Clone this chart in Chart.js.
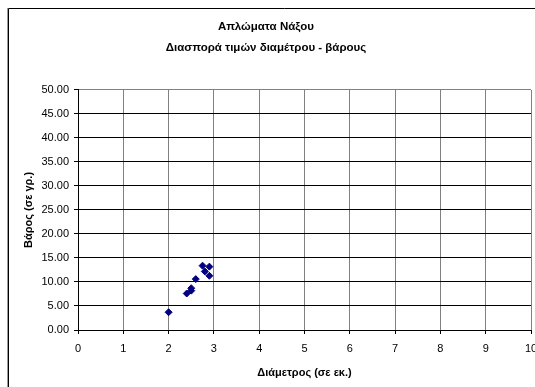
<!DOCTYPE html>
<html>
<head>
<meta charset="utf-8">
<script src="https://cdn.jsdelivr.net/npm/chart.js@4/dist/chart.umd.min.js"></script>
<style>
  html, body { margin: 0; padding: 0; background: #fff; overflow: hidden; }
  #wrap { width: 560px; height: 387px; }
</style>
</head>
<body>
<div id="wrap"><canvas id="myChart" width="560" height="387"></canvas></div>
<script>
// diameter (cm) vs weight (g)
const diameters = [2.0, 2.4, 2.5, 2.5, 2.6, 2.75, 2.9, 2.8, 2.9];
const weights = [3.7, 7.6, 8.2, 8.7, 10.6, 13.4, 13.2, 12.2, 11.3];

const titleLines = ["Απλώματα Νάξου", "Διασπορά τιμών διαμέτρου - βάρους"];
const xTitle = "Διάμετρος (σε εκ.)";
const yTitle = "Βάρος (σε γρ.)";

const points = diameters.map((d, i) => ({ x: d, y: weights[i] }));

const FONT = "'Liberation Sans', Arial, sans-serif";

// outer frame of the chart object
const framePlugin = {
  id: "frame",
  afterDraw(chart) {
    const ctx = chart.ctx;
    ctx.save();
    ctx.lineWidth = 1;
    ctx.strokeStyle = "#9a9a9a";
    ctx.beginPath();
    ctx.moveTo(7.5, 8);
    ctx.lineTo(7.5, 400);
    ctx.stroke();
    ctx.strokeStyle = "#000";
    ctx.beginPath();
    ctx.moveTo(8.5, 400);
    ctx.lineTo(8.5, 8.5);
    ctx.lineTo(560, 8.5);
    ctx.stroke();
    ctx.restore();
  }
};

const ctx = document.getElementById("myChart").getContext("2d");
new Chart(ctx, {
  type: "scatter",
  data: {
    datasets: [{
      data: points,
      pointStyle: "rectRot",
      pointRadius: 3.5,
      backgroundColor: "#000080",
      borderColor: "#000080",
      borderWidth: 1
    }]
  },
  options: {
    responsive: false,
    animation: false,
    layout: { padding: { left: 1, right: 29, top: 0, bottom: 0 } },
    plugins: {
      legend: { display: false },
      tooltip: { enabled: false },
      title: {
        display: true,
        text: titleLines,
        color: "#000",
        font: { family: FONT, size: 11.5, weight: "bold", lineHeight: 1.82 },
        padding: { top: 16.5, bottom: 31.6 }
      }
    },
    scales: {
      x: {
        type: "linear",
        min: 0,
        max: 10,
        ticks: {
          stepSize: 1,
          color: "#000",
          padding: 8,
          maxRotation: 0,
          font: { family: FONT, size: 11 }
        },
        grid: { color: "#808080", tickColor: "#000", tickLength: 4 },
        border: { color: "#000" },
        title: {
          display: true,
          text: xTitle,
          color: "#000",
          font: { family: FONT, size: 11, weight: "bold" },
          padding: { top: 0, bottom: 7.4 }
        },
        afterFit(scale) { scale.height = 57; }
      },
      y: {
        type: "linear",
        min: 0,
        max: 50,
        ticks: {
          stepSize: 5,
          color: "#000",
          padding: 5,
          font: { family: FONT, size: 11 },
          callback: v => v.toFixed(2)
        },
        grid: {
          color: c => (c.tick && c.tick.value === 50 ? "#808080" : "#000"),
          tickColor: "#000",
          tickLength: 4
        },
        border: { color: "#000" },
        title: {
          display: true,
          text: yTitle,
          color: "#000",
          font: { family: FONT, size: 11, weight: "bold" },
          padding: { top: 21.4, bottom: 0 }
        },
        afterFit(scale) { scale.width = 77; }
      }
    }
  },
  plugins: [framePlugin]
});
</script>
</body>
</html>
